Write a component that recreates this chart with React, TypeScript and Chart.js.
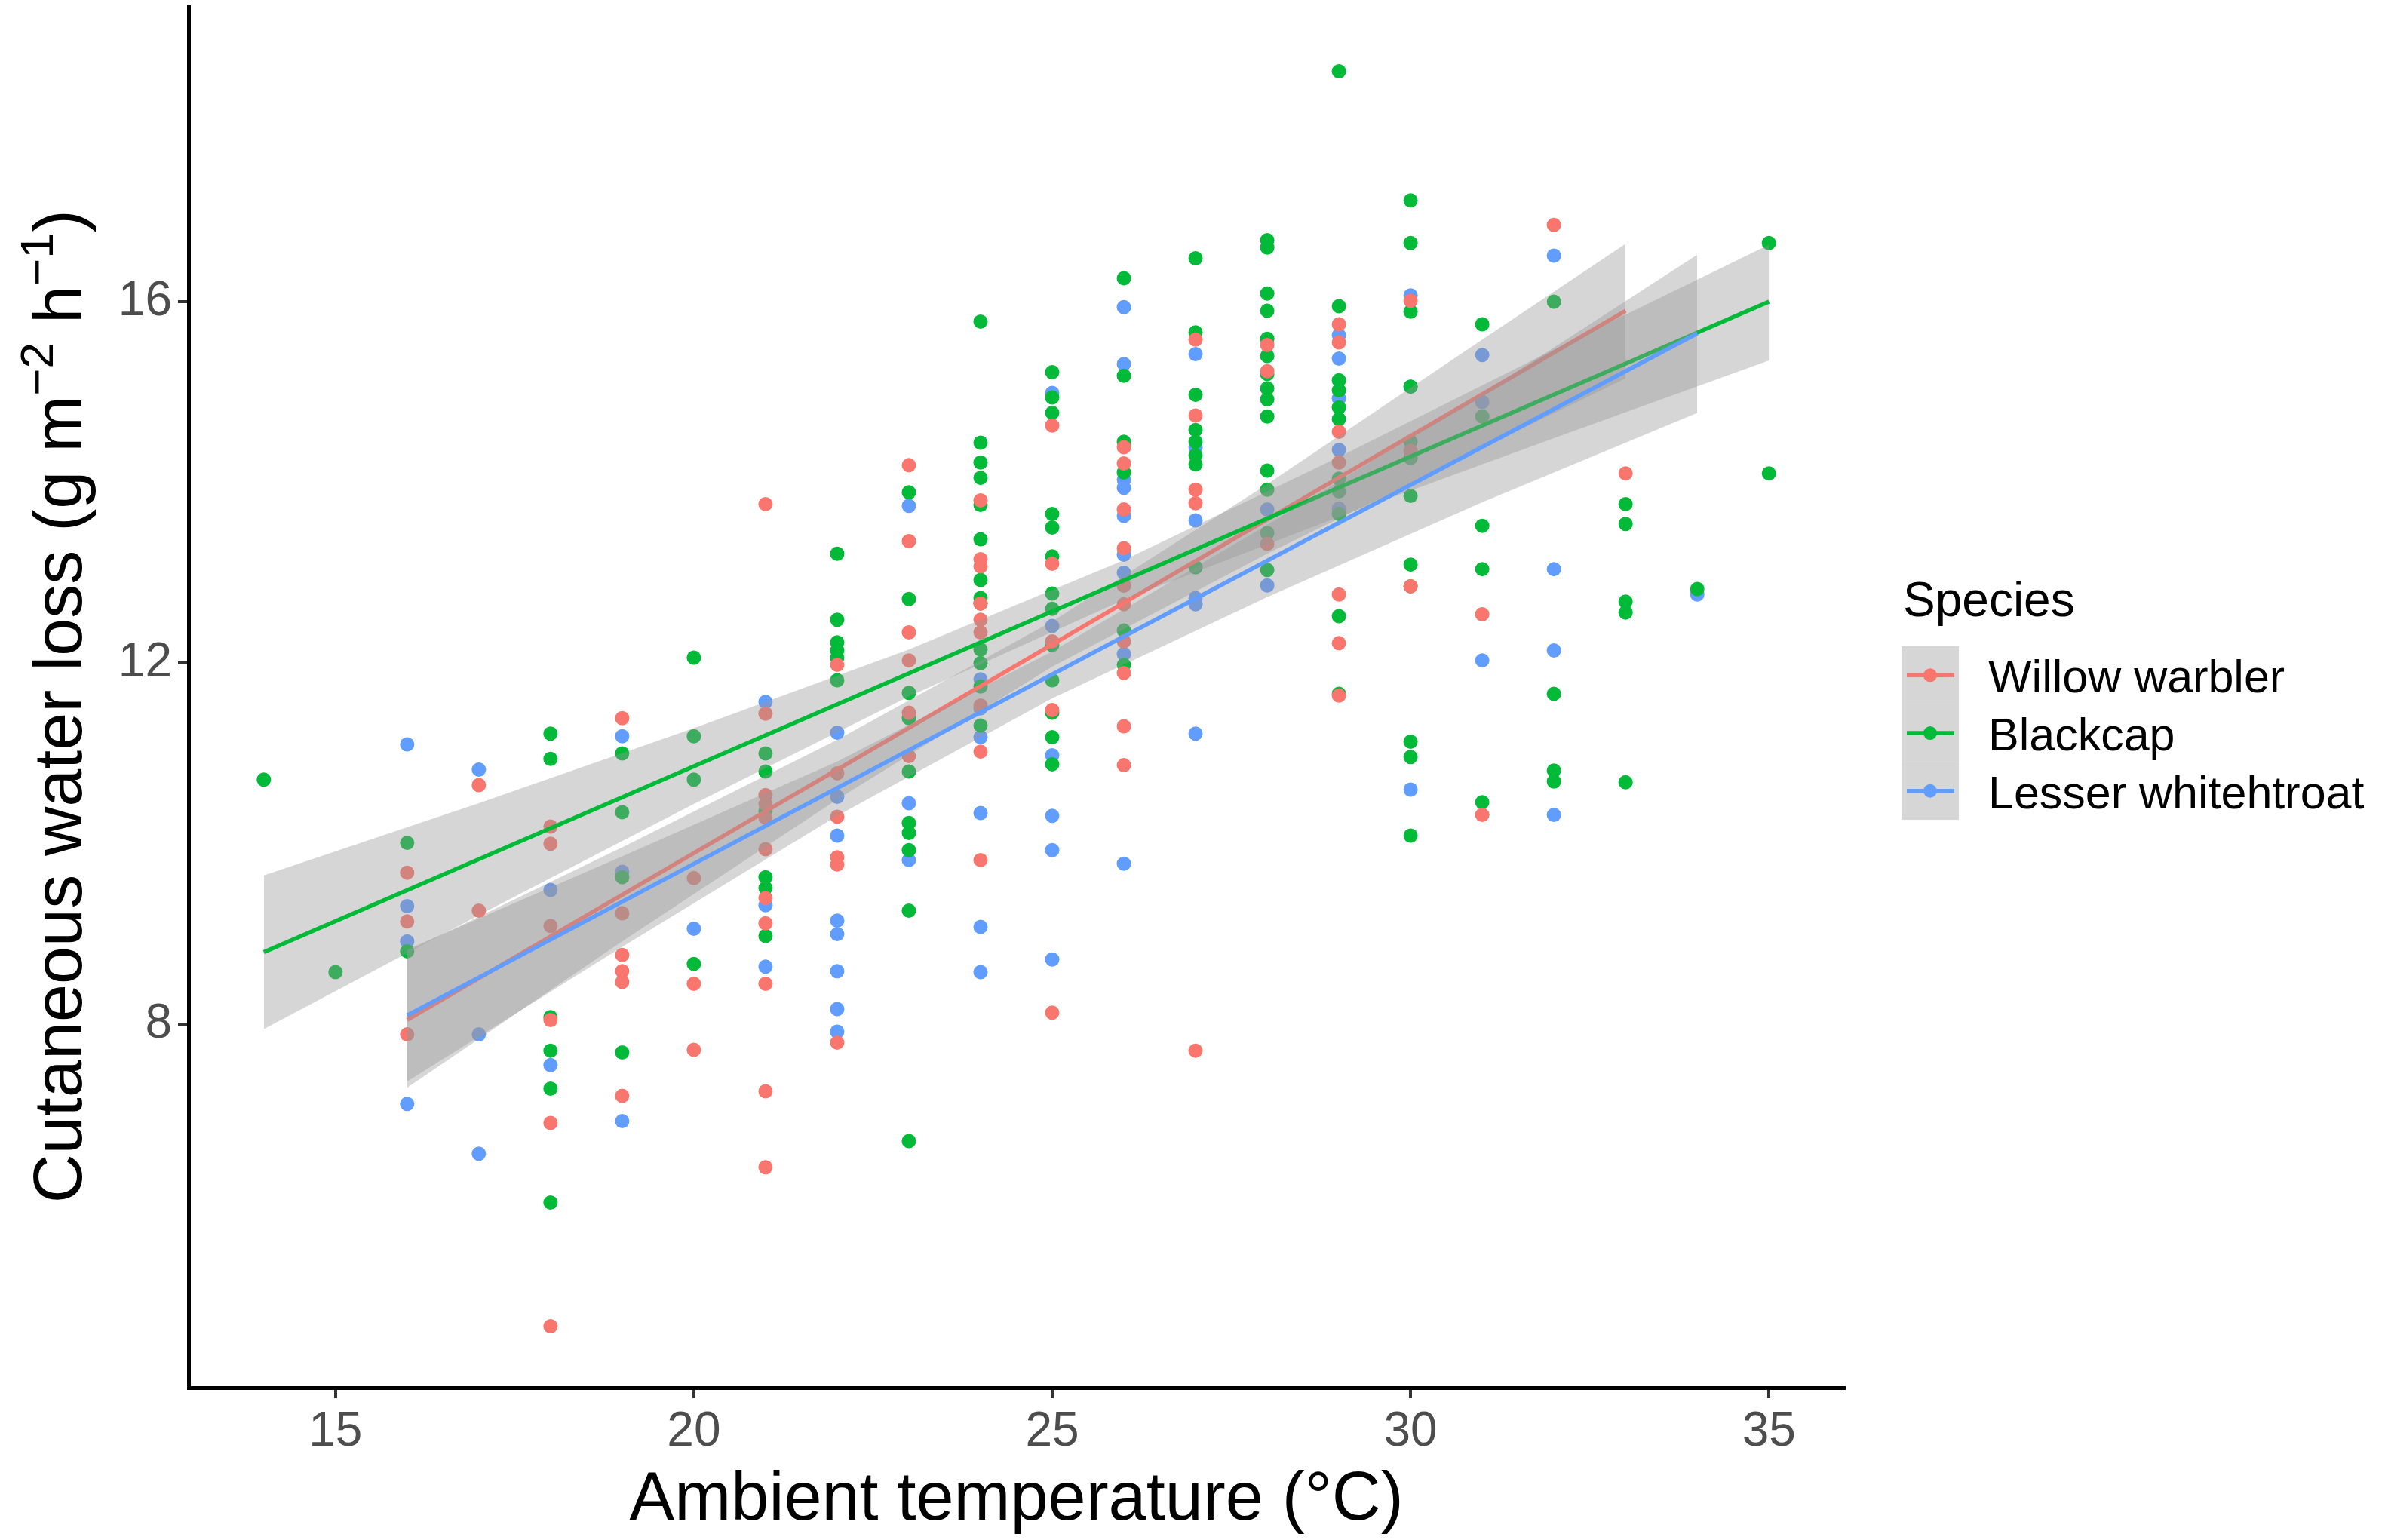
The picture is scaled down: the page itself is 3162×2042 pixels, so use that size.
import { useEffect, useRef } from "react"
import { Chart, registerables } from "chart.js"

// Register Chart.js components
Chart.register(...registerables)

const FONT = '"Liberation Sans", Arial, Helvetica, sans-serif'

const RED = "#F8766D"
const GREEN = "#00BA38"
const BLUE = "#619CFF"
const RIBBON = "rgba(153, 153, 153, 0.4)"

const species = ["Willow warbler", "Blackcap", "Lesser whitehtroat"]

// Observations: temperature (°C) and the water loss values read at it
const willowTemps = [16, 17, 18, 19, 20, 21, 22, 23, 24, 25, 26, 27, 28, 29, 30, 31, 32, 33]
const willowLoss = [
  [9.68, 9.14, 7.89],
  [10.65, 9.26],
  [10.19, 10.0, 9.09, 8.05, 6.91, 4.66],
  [11.39, 9.23, 8.77, 8.59, 8.47, 7.21],
  [9.62, 8.45, 7.72],
  [13.76, 11.44, 10.54, 10.44, 10.29, 9.94, 9.4, 9.12, 8.45, 7.26, 6.42],
  [11.98, 10.78, 10.3, 9.85, 9.77, 7.8],
  [14.19, 13.35, 12.34, 12.03, 11.45, 10.97],
  [13.8, 13.15, 13.07, 12.66, 12.48, 12.34, 11.53, 11.02, 9.82],
  [14.63, 13.1, 12.24, 11.48, 8.13],
  [14.39, 14.21, 13.7, 13.27, 12.86, 12.65, 12.24, 11.89, 11.3, 10.87],
  [15.58, 14.74, 13.92, 13.77, 7.71],
  [15.52, 15.23, 13.32],
  [15.75, 15.55, 14.56, 14.22, 12.76, 12.22, 11.64],
  [16.01, 14.35, 12.85],
  [12.54, 10.32],
  [16.85],
  [14.1],
]

const blackcapTemps = [14, 15, 16, 18, 19, 20, 21, 22, 23, 24, 25, 26, 27, 28, 29, 30, 31, 32, 33, 34, 35]
const blackcapLoss = [
  [10.71],
  [8.58],
  [10.01, 8.81],
  [11.22, 10.94, 8.08, 7.71, 7.29, 6.03],
  [11.0, 10.35, 9.63, 7.69],
  [12.06, 11.19, 10.71, 8.67],
  [11.0, 10.8, 10.36, 9.63, 9.51, 8.98],
  [13.21, 12.48, 12.23, 12.14, 12.06, 11.81],
  [13.89, 12.71, 11.67, 11.39, 10.8, 10.23, 10.12, 9.93, 9.26, 6.71],
  [15.78, 14.44, 14.22, 14.05, 13.75, 13.37, 12.92, 12.72, 12.66, 12.15, 12.0, 11.74, 11.31],
  [15.22, 14.94, 14.77, 13.65, 13.5, 13.18, 12.77, 12.6, 12.2, 11.81, 11.45, 11.18, 10.88],
  [16.26, 15.18, 14.45, 14.11, 12.86, 12.36, 11.98],
  [16.48, 15.66, 14.97, 14.58, 14.45, 14.3, 14.2, 13.06],
  [16.68, 16.6, 16.09, 15.9, 15.59, 15.4, 15.2, 15.04, 14.92, 14.73, 14.13, 13.92, 13.44, 13.03],
  [18.55, 15.95, 15.13, 15.02, 14.83, 14.7, 14.04, 13.9, 13.65, 12.52, 11.66],
  [17.12, 16.65, 15.89, 15.06, 14.45, 14.27, 13.85, 13.09, 12.85, 11.13, 10.96, 10.09],
  [15.75, 14.73, 13.52, 13.04, 10.46],
  [16.0, 11.66, 10.81, 10.69],
  [13.76, 13.54, 12.68, 12.56, 10.68],
  [12.82],
  [16.65, 14.1],
]

const whitethroatTemps = [16, 17, 18, 19, 20, 21, 22, 23, 24, 25, 26, 27, 28, 29, 30, 31, 32, 34]
const whitethroatLoss = [
  [11.1, 9.31, 8.92, 7.12],
  [10.82, 7.89, 6.57],
  [9.49, 7.55],
  [11.19, 9.69, 6.93],
  [9.06],
  [11.57, 9.32, 8.64],
  [11.23, 10.52, 10.09, 9.15, 9.0, 8.59, 8.17, 7.92],
  [13.74, 10.45, 9.82],
  [11.82, 11.5, 11.18, 10.34, 9.08, 8.58],
  [14.99, 12.41, 10.98, 10.31, 9.93, 8.72],
  [15.94, 15.31, 14.03, 13.94, 13.63, 13.2, 13.0, 12.1, 9.78],
  [15.42, 14.39, 13.58, 12.72, 12.65, 11.22],
  [13.7, 12.86],
  [15.63, 15.37, 14.93, 14.36, 13.71],
  [16.07, 15.06, 10.6],
  [15.41, 14.89, 12.03],
  [16.51, 13.04, 12.14, 10.32],
  [12.76],
]

// Fitted lines (end points) and confidence ribbons
const willowFitX = [16, 33]
const willowFitY = [8.05, 15.9]
const willowBandX = [16, 19, 22, 25, 28, 31, 33]
const willowBandLow = [7.3, 8.92, 10.49, 11.96, 13.21, 14.38, 15.15]
const willowBandHigh = [8.81, 9.96, 11.15, 12.46, 13.98, 15.58, 16.64]

const blackcapFitX = [14, 35]
const blackcapFitY = [8.8, 16.0]
const blackcapBandX = [14, 17, 20, 23, 26, 29, 32, 35]
const blackcapBandLow = [7.95, 9.21, 10.44, 11.63, 12.7, 13.62, 14.49, 15.35]
const blackcapBandHigh = [9.65, 10.45, 11.28, 12.15, 13.14, 14.28, 15.47, 16.63]

const whitethroatFitX = [16, 34]
const whitethroatFitY = [8.1, 15.65]
const whitethroatBandX = [16, 19, 22, 25, 28, 31, 34]
const whitethroatBandLow = [7.37, 8.86, 10.31, 11.61, 12.73, 13.78, 14.77]
const whitethroatBandHigh = [8.83, 9.86, 10.91, 12.13, 13.53, 14.98, 16.52]

const xTicks = [15, 20, 25, 30, 35]
const yTicks = [8, 12, 16]

const xTitle = "Ambient temperature (°C)"
const yTitleParts: [string, boolean][] = [
  ["Cutaneous water loss (g m", false],
  ["\u22122", true],
  [" h", false],
  ["\u22121", true],
  [")", false],
]

const toPoints = (temps: number[], loss: number[][]) =>
  temps.flatMap((t, i) => loss[i].map((v) => ({ x: t, y: v })))

const zip = (xs: number[], ys: number[]) => xs.map((x, i) => ({ x, y: ys[i] }))

const fitLine = (xs: number[], ys: number[], color: string) => ({
  type: "line" as const,
  data: zip(xs, ys),
  borderColor: color,
  borderWidth: 5.5,
  pointRadius: 0,
  fill: false,
})

const ribbon = (xs: number[], ys: number[], fill: string | boolean) => ({
  type: "line" as const,
  data: zip(xs, ys),
  borderWidth: 0,
  borderColor: "rgba(0,0,0,0)",
  backgroundColor: RIBBON,
  pointRadius: 0,
  fill,
})

const points = (temps: number[], loss: number[][], color: string) => ({
  type: "scatter" as const,
  data: toPoints(temps, loss),
  backgroundColor: color,
  borderWidth: 0,
  pointRadius: 9.5,
})

// Axis titles (with superscripts) and the ggplot-style legend
const annotations = {
  id: "annotations",
  afterDraw(chart: Chart) {
    const { ctx, chartArea } = chart
    ctx.save()
    ctx.fillStyle = "#000"
    ctx.textBaseline = "alphabetic"

    ctx.font = `90px ${FONT}`
    ctx.textAlign = "center"
    ctx.fillText(xTitle, (chartArea.left + chartArea.right) / 2, 2015)

    // y title, rotated
    const normal = `90px ${FONT}`
    const small = `62px ${FONT}`
    ctx.textAlign = "left"
    let total = 0
    for (const [t, sup] of yTitleParts) {
      ctx.font = sup ? small : normal
      total += ctx.measureText(t).width
    }
    ctx.translate(108, (chartArea.top + chartArea.bottom) / 2 + 12)
    ctx.rotate(-Math.PI / 2)
    let pos = -total / 2
    for (const [t, sup] of yTitleParts) {
      ctx.font = sup ? small : normal
      ctx.fillText(t, pos, sup ? -38 : 0)
      pos += ctx.measureText(t).width
    }
    ctx.setTransform(1, 0, 0, 1, 0, 0)
    ctx.scale(chart.currentDevicePixelRatio, chart.currentDevicePixelRatio)

    // legend
    const keyX = 2521
    const keyTop = 857
    const keySize = 76.7
    ctx.font = `64px ${FONT}`
    ctx.fillText("Species", 2523, 817)
    const colors = [RED, GREEN, BLUE]
    species.forEach((name, i) => {
      const cy = keyTop + keySize * i + keySize / 2
      ctx.fillStyle = RIBBON
      ctx.fillRect(keyX, keyTop + keySize * i, 76, keySize)
      ctx.strokeStyle = colors[i]
      ctx.lineWidth = 5.5
      ctx.beginPath()
      ctx.moveTo(keyX + 7, cy)
      ctx.lineTo(keyX + 70, cy)
      ctx.stroke()
      ctx.fillStyle = colors[i]
      ctx.beginPath()
      ctx.arc(keyX + 38, cy, 9, 0, Math.PI * 2)
      ctx.fill()
      ctx.fillStyle = "#000"
      ctx.font = `61px ${FONT}`
      ctx.fillText(name, 2636, cy + 23)
    })
    ctx.restore()
  },
}

export default function App() {
  const chartRef = useRef<HTMLCanvasElement>(null)

  useEffect(() => {
    if (!chartRef.current) return

    const chart = new Chart(chartRef.current, {
      type: "scatter",
      data: {
        datasets: [
          fitLine(whitethroatFitX, whitethroatFitY, BLUE),
          ribbon(whitethroatBandX, whitethroatBandHigh, "+1"),
          ribbon(whitethroatBandX, whitethroatBandLow, false),
          fitLine(blackcapFitX, blackcapFitY, GREEN),
          ribbon(blackcapBandX, blackcapBandHigh, "+1"),
          ribbon(blackcapBandX, blackcapBandLow, false),
          fitLine(willowFitX, willowFitY, RED),
          ribbon(willowBandX, willowBandHigh, "+1"),
          ribbon(willowBandX, willowBandLow, false),
          points(willowTemps, willowLoss, RED),
          points(blackcapTemps, blackcapLoss, GREEN),
          points(whitethroatTemps, whitethroatLoss, BLUE),
        ] as any,
      },
      options: {
        responsive: false,
        animation: false,
        events: [],
        layout: { padding: { top: 6, right: 717, left: 0, bottom: 0 } },
        plugins: {
          legend: { display: false },
          tooltip: { enabled: false },
        },
        scales: {
          x: {
            type: "linear",
            min: 12.95,
            max: 36.05,
            afterBuildTicks: (scale) => {
              scale.ticks = xTicks.map((v) => ({ value: v }))
            },
            afterFit: (scale: any) => {
              scale.height = 202
              scale.paddingLeft = 0
              scale.paddingRight = 0
            },
            grid: {
              display: true,
              drawOnChartArea: false,
              drawTicks: true,
              tickLength: 14,
              color: "#333333",
              lineWidth: 4,
            },
            border: { display: true, color: "#000", width: 5 },
            ticks: {
              color: "#4D4D4D",
              font: { size: 64, family: FONT },
              padding: 7,
              maxRotation: 0,
            },
          },
          y: {
            type: "linear",
            min: 3.98,
            max: 19.26,
            afterBuildTicks: (scale) => {
              scale.ticks = yTicks.map((v) => ({ value: v }))
            },
            afterFit: (scale: any) => {
              scale.width = 250
              scale.paddingTop = 0
              scale.paddingBottom = 0
            },
            grid: {
              display: true,
              drawOnChartArea: false,
              drawTicks: true,
              tickLength: 14,
              color: "#333333",
              lineWidth: 4,
            },
            border: { display: true, color: "#000", width: 5 },
            ticks: {
              color: "#4D4D4D",
              font: { size: 64, family: FONT },
              padding: 8,
            },
          },
        },
      },
      plugins: [annotations],
    })

    return () => {
      chart.destroy()
    }
  }, [])

  return (
    <div style={{ position: "fixed", left: 0, top: 0, width: 3162, height: 2042, background: "#fff" }}>
      <canvas ref={chartRef} width={3162} height={2042} style={{ display: "block" }} />
    </div>
  )
}
